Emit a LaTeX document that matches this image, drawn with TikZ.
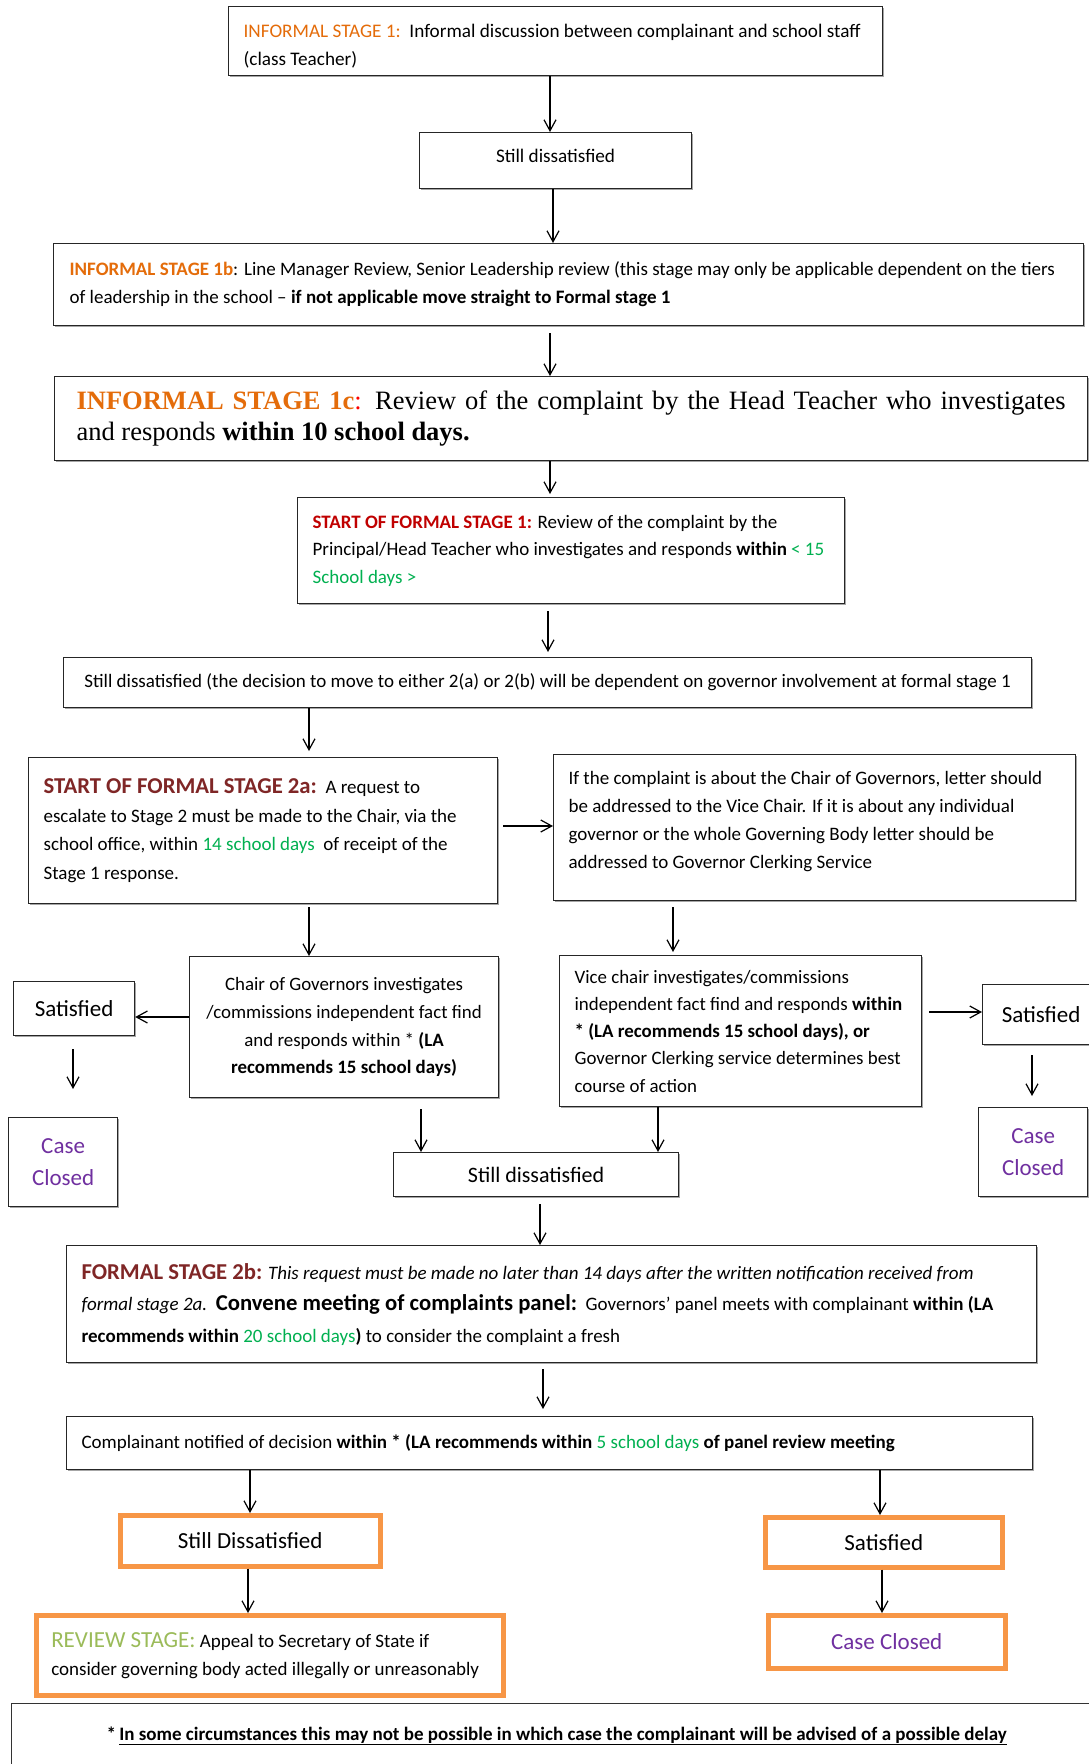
\documentclass[tikz,border=0pt]{standalone}
\usepackage{fontspec}
\setmainfont{Carlito}
\newfontfamily\tnr{Liberation Serif}
\usetikzlibrary{arrows.meta,shadows,calc}
\definecolor{orng}{HTML}{E46C0A}
\definecolor{fred}{HTML}{C00000}
\definecolor{grn}{HTML}{00B050}
\definecolor{dred}{HTML}{7F2626}
\definecolor{purp}{HTML}{7030A0}
\definecolor{obord}{HTML}{F79646}
\definecolor{rgrn}{HTML}{9BBB59}
\newcommand{\fsz}[2]{\fontsize{#1}{#2}\selectfont}
\newcommand{\bigsz}{\fontsize{23}{30}\selectfont}
\newcommand{\hdsz}{\fontsize{22.7}{28}\selectfont}
\tikzset{
  shd/.style={drop shadow={shadow xshift=1.3pt, shadow yshift=-1.3pt, fill=black!35, opacity=1}},
  bx/.style={draw=black!85, line width=1.2pt, rectangle, anchor=north west, fill=white, shd, font=\fsz{19}{28}},
  obx/.style={draw=obord, line width=4.5pt, rectangle, anchor=north west, fill=white, font=\bigsz},
  arr/.style={line width=1.2pt, -{Straight Barb[length=11pt,width=12pt]}},
}
\begin{document}
\begin{tikzpicture}[x=1pt,y=-1pt]
\useasboundingbox (0,0) rectangle (1089,1764);
\clip (0,0) rectangle (1089,1764);

% column coordinates
\coordinate (x550) at (550,0);
\coordinate (x553) at (553,0);
\coordinate (x548) at (548,0);
\coordinate (x309) at (309,0);
\coordinate (x673) at (673,0);
\coordinate (x73) at (73,0);
\coordinate (x1032) at (1032,0);
\coordinate (x421) at (421,0);
\coordinate (x658) at (658,0);
\coordinate (x540) at (540,0);
\coordinate (x543) at (543,0);
\coordinate (x250) at (250,0);
\coordinate (x248) at (248,0);
\coordinate (x880) at (880,0);
\coordinate (x882) at (882,0);
\coordinate (y826) at (0,826);
\coordinate (y1017) at (0,1017);
\coordinate (y1012) at (0,1012);

% boxes
\node[bx, minimum width=654pt, minimum height=69pt, inner xsep=15pt, text width=624pt, align=flush left, font=\fsz{19.2}{28}] (b1) at (228,6)
  {\rule{0pt}{23pt}\mbox{{\color{orng}INFORMAL STAGE 1:}\ \ Informal discussion between complainant and school staff}\\(class Teacher)};

\node[bx, minimum width=272pt, minimum height=56pt, align=center, font=\fsz{19.2}{28}] (b2) at (419,132) {Still dissatisfied\\[-19pt]\mbox{}};

\node[bx, minimum width=1030pt, minimum height=82pt, inner xsep=16pt, text width=998pt, align=flush left] (b3) at (53,243)
  {\mbox{{\color{orng}\bfseries INFORMAL STAGE 1b}: Line Manager Review, Senior Leadership review (this stage may only be applicable dependent on the tiers}\\of leadership in the school – \textbf{if not applicable move straight to Formal stage 1}};

\node[bx, minimum width=1033pt, minimum height=84pt, inner xsep=22pt, text width=989pt, align=flush left, font=\tnr\fontsize{26.5}{31.5}\selectfont] (b4) at (54,376)
  {\makebox[989pt][s]{{\color{orng}\bfseries INFORMAL STAGE 1c}{\color{red}:} Review of the complaint by the Head Teacher who investigates}\\and responds \textbf{within 10 school days.}};

\node[bx, minimum width=547pt, minimum height=106pt, inner xsep=15pt, text width=517pt, align=flush left, font=\fsz{19}{27.5}] (b5) at (297,497)
  {{\color{fred}\bfseries START OF FORMAL STAGE 1:} Review of the complaint by the\\\mbox{Principal/Head Teacher who investigates and responds \textbf{within} {\color{grn}< 15}}\\{\color{grn}School days >}};

\node[bx, minimum width=968pt, minimum height=50pt, align=center] (b6) at (63,657)
  {Still dissatisfied (the decision to move to either 2(a) or 2(b) will be dependent on governor involvement at formal stage 1};

\node[bx, minimum width=469pt, minimum height=146pt, inner xsep=15pt, text width=439pt, align=flush left, font=\fsz{19}{28.5}] (b7) at (28,757)
  {{\color{dred}\hdsz\bfseries START OF FORMAL STAGE 2a:}\ \ A request to\\\mbox{escalate to Stage 2 must be made to the Chair, via the}\\\mbox{school office, within {\color{grn}14 school days}\ \ of receipt of the}\\Stage 1 response.};

\node[bx, minimum width=522pt, minimum height=146pt, inner xsep=15pt, text width=492pt, align=flush left, font=\fsz{19}{28}] (b8) at (553,754)
  {\mbox{If the complaint is about the Chair of Governors, letter should}\\\mbox{be addressed to the Vice Chair. If it is about any individual}\\\mbox{governor or the whole Governing Body letter should be}\\addressed to Governor Clerking Service\\[-12pt]\mbox{}};

\node[bx, minimum width=309pt, minimum height=141pt, align=center, font=\fsz{18.9}{27.7}] (b9) at (189,956)
  {Chair of Governors investigates\\/commissions independent fact find\\and responds within * \textbf{(LA}\\\textbf{recommends 15 school days)}};

\node[bx, minimum width=362pt, minimum height=151pt, inner xsep=15pt, text width=332pt, align=flush left, font=\fsz{18.9}{27.3}] (b10) at (559,955)
  {Vice chair investigates/commissions\\\mbox{independent fact find and responds \textbf{within}}\\\mbox{\textbf{* (LA recommends 15 school days), or}}\\\mbox{Governor Clerking service determines best}\\course of action};

\node[bx, minimum width=121pt, minimum height=54pt, align=center, font=\bigsz] (satL) at (13,981) {Satisfied};
\node[bx, minimum width=109pt, minimum height=89pt, align=center, font=\fsz{23}{32}, text=purp] (ccL) at (8,1117) {Case\\Closed};
\node[bx, minimum width=125pt, minimum height=60pt, align=center, font=\bigsz] (satR) at (982,984) {\hspace*{-8pt}Satisfied};
\node[bx, minimum width=109pt, minimum height=89pt, align=center, font=\fsz{23}{32}, text=purp] (ccR) at (978,1107) {Case\\Closed};

\node[bx, minimum width=285pt, minimum height=44pt, align=center, font=\fsz{22}{28}] (sd2) at (393,1152) {Still dissatisfied};

\node[bx, minimum width=970pt, minimum height=117pt, inner xsep=15pt, text width=940pt, align=flush left, font=\fsz{19}{31.5}] (b2b) at (66,1245)
  {\mbox{{\color{dred}\hdsz\bfseries FORMAL STAGE 2b:} \textit{This request must be made no later than 14 days after the written notification received from}}\\\mbox{\textit{formal stage 2a.}\ \ {\hdsz\bfseries Convene meeting of complaints panel:}\ \ Governors’ panel meets with complainant \textbf{within (LA}}\\\textbf{recommends within} {\color{grn}20 school days}\textbf{)} to consider the complaint a fresh};

\node[bx, minimum width=966pt, minimum height=53pt, inner xsep=15pt, text width=936pt, align=flush left, font=\fsz{19}{28}] (notif) at (66,1416)
  {Complainant notified of decision \textbf{within * (LA recommends within} {\color{grn}5 school days} \textbf{of panel review meeting}};

\node[obx, minimum width=260pt, minimum height=51pt, align=center] (sdO) at (118,1513) {Still Dissatisfied};
\node[obx, minimum width=237pt, minimum height=50pt, align=center] (satO) at (763,1515) {Satisfied};
\node[obx, minimum width=467pt, minimum height=80pt, inner xsep=15pt, text width=437pt, align=flush left, font=\fsz{19}{28}] (rev) at (34,1613)
  {{\color{rgrn}\fontsize{23}{28}\selectfont REVIEW STAGE:} Appeal to Secretary of State if\\\mbox{consider governing body acted illegally or unreasonably}};
\node[obx, minimum width=237pt, minimum height=53pt, align=center, text=purp] (ccO) at (766,1613) {Case Closed};

\node[draw=black!80, line width=1.4pt, anchor=north west, minimum width=1100pt, minimum height=64pt, align=center, font=\fsz{19}{28}\bfseries] (foot) at (11,1703)
  {\hspace*{-10pt}*\,\underline{In some circumstances this may not be possible in which case the complainant will be advised of a possible delay}};

% connectors
\draw[arr] (b1.south -| x550) -- (b2.north -| x550);
\draw[arr] (b2.south -| x553) -- (b3.north -| x553);
\draw[arr, shorten <=7pt] (b3.south -| x550) -- (b4.north -| x550);
\draw[arr, shorten >=3pt] (b4.south -| x550) -- (b5.north -| x550);
\draw[arr, shorten <=7pt, shorten >=5pt] (b5.south -| x548) -- (b6.north -| x548);
\draw[arr, shorten >=6pt] (b6.south -| x309) -- (b7.north -| x309);
\draw[arr, shorten <=5pt] (b7.east |- y826) -- (b8.west |- y826);
\draw[arr, shorten <=3pt] (b7.south -| x309) -- (b9.north -| x309);
\draw[arr, shorten <=6pt, shorten >=3pt] (b8.south -| x673) -- (b10.north -| x673);
\draw[arr] (b9.west |- y1017) -- (satL.east |- y1017);
\draw[arr, shorten <=13pt, shorten >=28pt] (satL.south -| x73) -- (ccL.north -| x73);
\draw[arr, shorten <=7pt] (b10.east |- y1012) -- (satR.west |- y1012);
\draw[arr, shorten <=10pt, shorten >=11pt] (satR.south -| x1032) -- (ccR.north -| x1032);
\draw[arr, shorten <=11pt] (b9.south -| x421) -- (sd2.north -| x421);
\draw[arr] (b10.south -| x658) -- (sd2.north -| x658);
\draw[arr, shorten <=7pt] (sd2.south -| x540) -- (b2b.north -| x540);
\draw[arr, shorten <=6pt, shorten >=7pt] (b2b.south -| x543) -- (notif.north -| x543);
\draw[arr] (notif.south -| x250) -- (sdO.north -| x250);
\draw[arr] (notif.south -| x880) -- (satO.north -| x880);
\draw[arr] (sdO.south -| x248) -- (rev.north -| x248);
\draw[arr] (satO.south -| x882) -- (ccO.north -| x882);
\end{tikzpicture}
\end{document}
